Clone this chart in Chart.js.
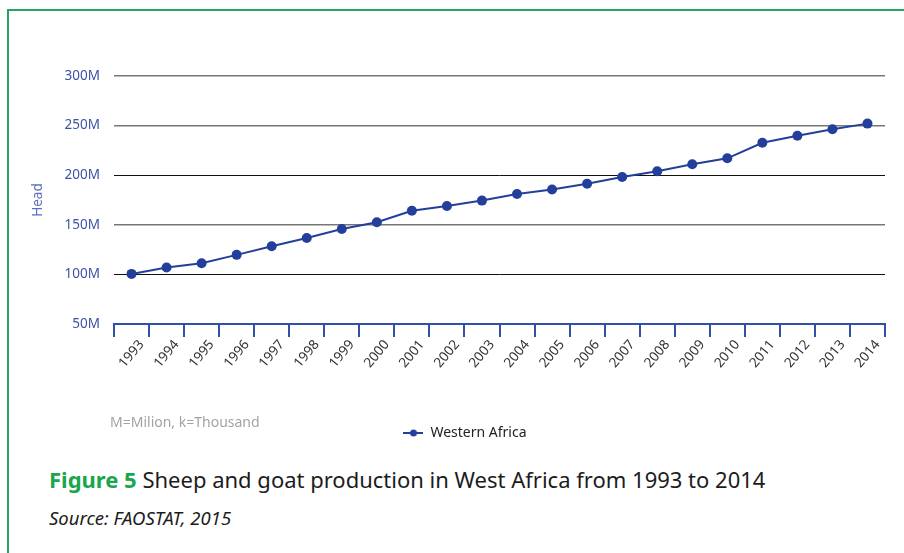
<!DOCTYPE html>
<html>
<head>
<meta charset="utf-8">
<script src="https://cdn.jsdelivr.net/npm/chart.js@4.4.1/dist/chart.umd.min.js"></script>
<style>
  html, body { margin: 0; padding: 0; background: #fff; }
  body { width: 904px; height: 553px; position: relative; overflow: hidden; font-family: "Noto Sans", sans-serif; }
  .frame { position: absolute; left: 7px; top: 9px; right: -10px; bottom: -10px;
           border-top: 2px solid #27a363; border-left: 2px solid #27a363; }
  #wrap { position: absolute; left: 0; top: 0; width: 904px; height: 460px; }
  .note { position: absolute; left: 110px; top: 412px; font-size: 14px; color: #a3a3a3; }
  .caption { position: absolute; left: 49px; top: 464px; font-size: 22px; color: #1c1c1c; white-space: nowrap; }
  .caption b { color: #19a64c; }
  .source { position: absolute; left: 49px; top: 505px; font-size: 18.5px; font-style: italic; color: #1c1c1c; }
</style>
</head>
<body>
<div class="frame"></div>
<div id="wrap"><canvas id="sheepChart"></canvas></div>
<div class="note">M=Milion, k=Thousand</div>
<div class="caption"><b>Figure 5</b> Sheep and goat production in West Africa from 1993 to 2014</div>
<div class="source">Source: FAOSTAT, 2015</div>
<script>
const years = ['1993','1994','1995','1996','1997','1998','1999','2000','2001','2002','2003',
               '2004','2005','2006','2007','2008','2009','2010','2011','2012','2013','2014'];
// head of sheep and goats, in millions
const westernAfrica = [100.5, 107, 111.3, 119.7, 128.3, 136.7, 145.7, 152.6, 164.1, 168.9, 174.4,
                       181.1, 185.6, 191.4, 198.1, 204, 211, 217, 232.7, 239.7, 246.3, 252];
const yTicks = [50, 100, 150, 200, 250, 300];

const blue = '#243f9b';

// legend marker: short line with a dot in the middle
const marker = document.createElement('canvas');
marker.width = 20; marker.height = 10;
const mctx = marker.getContext('2d');
mctx.strokeStyle = blue; mctx.lineWidth = 2;
mctx.beginPath(); mctx.moveTo(0, 5); mctx.lineTo(20, 5); mctx.stroke();
mctx.fillStyle = blue;
mctx.beginPath(); mctx.arc(10, 5, 3.5, 0, Math.PI * 2); mctx.fill();

Chart.defaults.font.family = '"Noto Sans", sans-serif';

const ctx = document.getElementById('sheepChart').getContext('2d');
const sheepChart = new Chart(ctx, {
    type: 'line',
    data: {
        labels: years,
        datasets: [{
            label: 'Western Africa',
            data: westernAfrica,
            borderColor: blue,
            backgroundColor: blue,
            borderWidth: 2,
            pointRadius: 5,
            pointHoverRadius: 5,
            pointBackgroundColor: blue,
            pointBorderWidth: 0,
            tension: 0,
            fill: false
        }]
    },
    options: {
        responsive: true,
        maintainAspectRatio: false,
        animation: false,
        layout: { padding: { left: 45, right: 19, top: 76, bottom: 10 } },
        plugins: {
            tooltip: { enabled: false },
            legend: {
                position: 'bottom',
                labels: {
                    usePointStyle: true,
                    pointStyleWidth: 20,
                    boxHeight: 10,
                    padding: 8,
                    color: '#222',
                    font: { size: 14 },
                    generateLabels: chart => chart.data.datasets.map((ds, i) => ({
                        text: ds.label,
                        pointStyle: marker,
                        fontColor: '#222',
                        lineWidth: 0,
                        datasetIndex: i
                    }))
                }
            }
        },
        scales: {
            x: {
                offset: true,
                afterFit: scale => { scale.height = 94; },
                border: { display: true, color: '#3350a8', width: 2 },
                grid: {
                    offset: true,
                    drawOnChartArea: false,
                    drawTicks: true,
                    tickLength: 13,
                    color: '#3350a8',
                    lineWidth: 2
                },
                ticks: {
                    autoSkip: false,
                    minRotation: 50,
                    maxRotation: 50,
                    padding: 0,
                    labelOffset: 10,
                    color: '#333',
                    font: { size: 13.5 }
                }
            },
            y: {
                min: 50,
                max: 300,
                afterFit: scale => { scale.width = 69; },
                afterBuildTicks: scale => { scale.ticks = yTicks.map(v => ({ value: v })); },
                border: { display: false },
                grid: {
                    drawTicks: false,
                    color: c => {
                        const v = c.tick.value;
                        if (v === 50) return 'rgba(0,0,0,0)';
                        return (v === 100 || v === 200) ? '#111' : '#777';
                    },
                    lineWidth: c => (c.tick.value === 100 || c.tick.value === 200) ? 1 : 1.6
                },
                ticks: {
                    padding: 14,
                    color: '#3d52a6',
                    font: { size: 13.5 },
                    callback: v => v + 'M'
                },
                title: {
                    display: true,
                    text: 'Head',
                    color: '#5b70c0',
                    font: { size: 13.5 },
                    padding: { top: -15, bottom: 0 }
                }
            }
        }
    }
});
</script>
</body>
</html>
